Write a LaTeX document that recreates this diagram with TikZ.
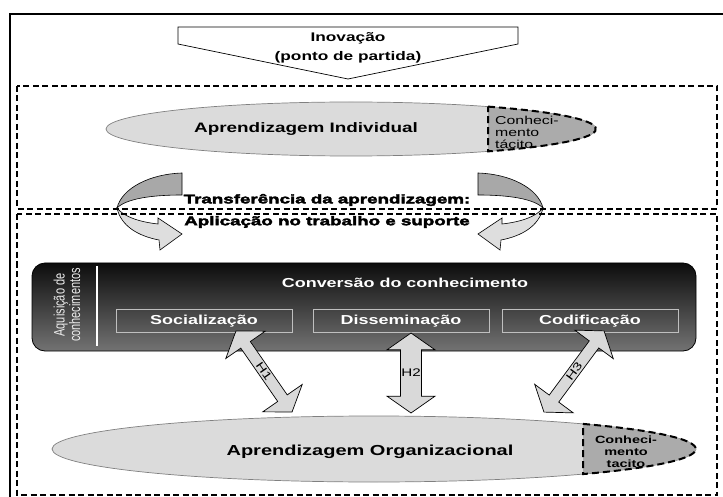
\documentclass[tikz,border=0pt]{standalone}
\usepackage{fontspec}
\setmainfont{Liberation Sans}[FakeStretch=1.38]
\newfontfamily\uprightsans{Liberation Sans}
\newfontfamily\heavysans{Liberation Sans Bold}[FakeStretch=1.5,FakeBold=3]
\usetikzlibrary{shapes.arrows}
\usetikzlibrary{calc}

\begin{document}
\begin{tikzpicture}[x=1pt,y=-1pt,
	dashbox/.style={draw, line width=1.1pt, dash pattern=on 6pt off 3.5pt},
	tacitline/.style={line width=2pt, dash pattern=on 7pt off 4pt},
	lens/.style={draw=black!50, line width=0.7pt, fill=black!14},
	hlink/.style={double arrow, draw, line width=0.7pt, fill=black!15, minimum width=48pt,
		double arrow head extend=13pt, double arrow tip angle=110, inner sep=0pt,
		font=\fontsize{11}{11}\selectfont},
	stage/.style={draw=black!25, line width=0.7pt, minimum width=176pt, minimum height=23pt,
		text=white, font=\bfseries\fontsize{13}{13}\selectfont}
]
	\useasboundingbox (0,0) rectangle (723,497);
	\draw[line width=1.6pt] (10,14) rectangle (726,501);

	\draw[line width=0.7pt, fill=white] (178,27) -- (518,27) -- (518,44) -- (348,79) -- (178,44) -- cycle;
	\node[font=\bfseries\fontsize{12.5}{12.5}\selectfont] (inov) at (348,38) {Inovação};
	\node[font=\bfseries\fontsize{12.5}{12.5}\selectfont] (partida) at (348,57) {(ponto de partida)};

	\coordinate (ind) at (351,129);
	\draw[lens] (ind) ellipse [x radius=245, y radius=27];
	\begin{scope}
		\clip (ind) ellipse [x radius=245, y radius=27];
		\fill[black!33] (488,95) rectangle (600,160);
	\end{scope}
	\draw[tacitline] (488,106.6) arc[start angle=-56, end angle=56, x radius=245, y radius=27] -- cycle;
	\node[font=\bfseries\fontsize{13.7}{13.7}\selectfont] (indlabel) at (306,129) {Aprendizagem Individual};
	\node[anchor=west, align=left, inner sep=0pt, font=\fontsize{11.5}{12}\selectfont] (indtacit) at (495,132) {Conheci-\\mento\\tácito};

	\foreach \sx/\dx in {1/0, -1/660} {
		\begin{scope}[xshift=\dx pt, xscale=\sx]
			\draw[line width=0.6pt, fill=black!34] (182,173) .. controls (150,174) and (122,188) .. (117,208)
				.. controls (126,199) and (150,195) .. (182,195) -- cycle;
			\draw[line width=0.6pt, fill=black!13] (117,208) .. controls (121,226) and (138,236) .. (159,240)
				-- (160,250) -- (182,234) -- (158,218) -- (158,224) .. controls (140,222) and (124,217) .. (117,208) -- cycle;
		\end{scope}
	}

	\draw[dashbox] (17,86) rectangle (717,209);
	\draw[dashbox] (17,214) rectangle (717,495);

	\node[font=\heavysans\fontsize{12.5}{12.5}\selectfont] (transf) at (327,200) {Transferência da aprendizagem:};
	\node[font=\heavysans\fontsize{12.5}{12.5}\selectfont] (aplic) at (327,222) {Aplicação no trabalho e suporte};

	\node[rounded corners=13pt, minimum width=664pt, minimum height=88pt, top color=black!95,
		bottom color=black!55, draw=black, line width=0.8pt] (conv) at (364,307) {};
	\draw[white, line width=1.6pt] (97,266) -- (97,346);
	\begin{scope}[shift={(67,305)}, rotate=90, yscale=1.38]
		\node[transform shape, align=center, inner sep=1pt, text=black!8, font=\uprightsans\fontsize{11}{10}\selectfont] (aquis) at (0,0) {Aquisição de\\conhecimentos};
	\end{scope}
	\node[text=white, font=\bfseries\fontsize{13}{13}\selectfont] (convlabel) at (405,283) {Conversão do conhecimento};
	\node[stage] (soc) at (204,321) {Socialização};
	\node[stage] (dis) at (401,321) {Disseminação};
	\node[stage] (cod) at (590,321) {Codificação};

	\coordinate (h1a) at (236,331);
	\coordinate (h1b) at (292,412);
	\node[hlink, minimum height=98.5pt, rotate=-55.3] (h1) at ($(h1a)!0.5!(h1b)$) {H1};
	\coordinate (h2a) at (411,333);
	\coordinate (h2b) at (411,413);
	\node[hlink, minimum height=80pt, shape border rotate=90] (h2) at ($(h2a)!0.5!(h2b)$) {H2};
	\coordinate (h3a) at (604,331);
	\coordinate (h3b) at (544,412);
	\node[hlink, minimum height=101pt, rotate=53.5] (h3) at ($(h3a)!0.5!(h3b)$) {H3};

	\coordinate (org) at (374,449);
	\draw[lens] (org) ellipse [x radius=322, y radius=33];
	\begin{scope}
		\clip (org) ellipse [x radius=322, y radius=33];
		\fill[black!33] (583,410) rectangle (700,490);
	\end{scope}
	\draw[tacitline] (583,423.9) arc[start angle=-49.5, end angle=49.5, x radius=322, y radius=33] -- cycle;
	\node[font=\bfseries\fontsize{14.5}{14.5}\selectfont] (orglabel) at (370,452) {Aprendizagem Organizacional};
	\node[align=center, inner sep=0pt, font=\bfseries\fontsize{10.5}{12}\selectfont] (orgtacit) at (626,452) {Conheci-\\mento\\tacito};
\end{tikzpicture}
\end{document}
